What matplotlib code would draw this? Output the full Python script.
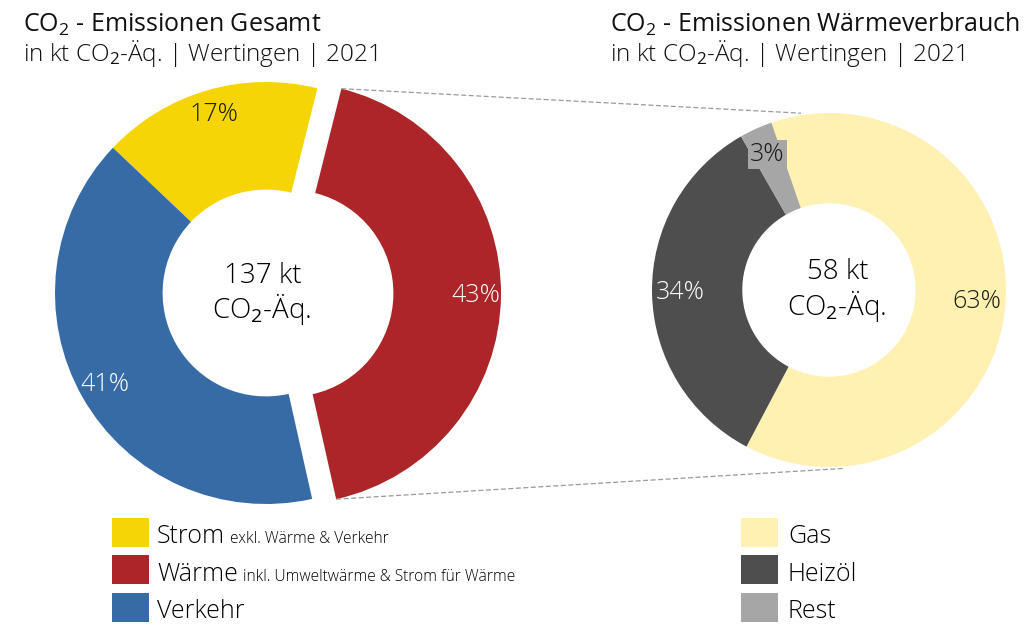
import numpy as np
import matplotlib
matplotlib.use("Agg")
import matplotlib.pyplot as plt
from matplotlib.patches import Rectangle

# --- data ---
total_labels = ["Strom", "Wärme", "Verkehr"]
total_notes = ["exkl. Wärme & Verkehr", "inkl. Umweltwärme & Strom für Wärme", ""]
total_values = [17, 43, 41]
total_sum = "137 kt"

heat_labels = ["Gas", "Heizöl", "Rest"]
heat_values = [63, 34, 3]
heat_sum = "58 kt"

colors_total = ["#F6D506", "#AB2529", "#366BA5"]
colors_heat = ["#FEF1B1", "#4E4E4E", "#A6A6A6"]
pct_colors_total = ["#1a1a1a", "white", "white"]
pct_colors_heat = ["#1a1a1a", "white", "#1a1a1a"]

plt.rcParams["font.family"] = ["Open Sans", "DejaVu Sans"]
plt.rcParams["mathtext.fontset"] = "custom"
plt.rcParams["mathtext.rm"] = "Open Sans"
plt.rcParams["mathtext.it"] = "Open Sans"

W, H = 1024, 642
fig = plt.figure(figsize=(W / 100, H / 100), dpi=100)
ax = fig.add_axes([0, 0, 1, 1])


def py(y):
    # pixel y (top down) -> data y
    return H - y


# --- left donut ---
c1 = (266, py(293))
r1 = 211
wedges1, _, pct1 = ax.pie(
    total_values, colors=colors_total, center=c1, radius=r1,
    startangle=136.5, counterclock=False, explode=[0, 24, 0],
    wedgeprops=dict(width=r1 * 0.51, linewidth=0),
    autopct="%.0f%%", pctdistance=0.88,
    textprops=dict(fontsize=18, fontweight="light"),
)
for t, col in zip(pct1, pct_colors_total):
    t.set_color(col)

# --- right donut ---
c2 = (829, py(290))
r2 = 177
wedges2, _, pct2 = ax.pie(
    heat_values, colors=colors_heat, center=c2, radius=r2,
    startangle=109, counterclock=False,
    wedgeprops=dict(width=r2 * 0.51, linewidth=0),
    autopct="%.0f%%", pctdistance=0.84,
    textprops=dict(fontsize=18, fontweight="light"),
)
for t, col in zip(pct2, pct_colors_heat):
    t.set_color(col)
pct2[2].set_bbox(dict(facecolor=colors_heat[2], edgecolor="none", pad=1.5))

ax.set_xlim(0, W)
ax.set_ylim(0, H)
ax.set_aspect("equal")
ax.axis("off")

# --- connector lines from exploded wedge to the right donut ---
red = wedges1[1]
cx, cy = red.center
right_angles = [99, -85.5]
for ang_l, ang_r in zip([red.theta2, red.theta1], right_angles):
    x0 = cx + r1 * np.cos(np.radians(ang_l))
    y0 = cy + r1 * np.sin(np.radians(ang_l))
    x1 = c2[0] + (r2 + 2) * np.cos(np.radians(ang_r))
    y1 = c2[1] + (r2 + 2) * np.sin(np.radians(ang_r))
    ax.plot([x0, x1], [y0, y1], color="#9a9a9a", linestyle=(0, (4, 2)), linewidth=0.9)

# --- center texts ---
ax.text(263, py(276), total_sum, ha="center", va="center", fontsize=20, fontweight="light")
ax.text(262, py(309), r"CO$_\mathrm{2}$-Äq.", ha="center", va="center", fontsize=20, fontweight="light")
ax.text(838, py(272), heat_sum, ha="center", va="center", fontsize=20, fontweight="light")
ax.text(837, py(306), r"CO$_\mathrm{2}$-Äq.", ha="center", va="center", fontsize=20, fontweight="light")

# --- titles ---
for x0, name in [(23, "Gesamt"), (610, "Wärmeverbrauch")]:
    ax.text(x0, py(32), r"CO$_\mathrm{2}$ - Emissionen " + name, ha="left", va="baseline",
            fontsize=18, fontweight="normal", color="#111111")
    ax.text(x0, py(61), r"in kt CO$_\mathrm{2}$-Äq. | Wertingen | 2021", ha="left", va="baseline",
            fontsize=17.5, fontweight="light", color="#111111")

# --- legends ---
baselines = [543, 581, 618]
box_tops = [518, 555, 593]
fig.canvas.draw()
renderer = fig.canvas.get_renderer()
for lab, note, col, base, top in zip(total_labels, total_notes, colors_total, baselines, box_tops):
    ax.add_patch(Rectangle((112, py(top + 29)), 37, 29, facecolor=col, edgecolor="none"))
    t = ax.text(157, py(base), lab, ha="left", va="baseline", fontsize=18, fontweight="light")
    if note:
        bb = t.get_window_extent(renderer)
        ax.text(bb.x1 + 5, py(base), note, ha="left", va="baseline", fontsize=11.2, fontweight="light")

for lab, col, base, top in zip(heat_labels, colors_heat, baselines, box_tops):
    ax.add_patch(Rectangle((741, py(top + 29)), 37, 29, facecolor=col, edgecolor="none"))
    ax.text(788, py(base), lab, ha="left", va="baseline", fontsize=18, fontweight="light")

fig.savefig("out.png", dpi=100)
